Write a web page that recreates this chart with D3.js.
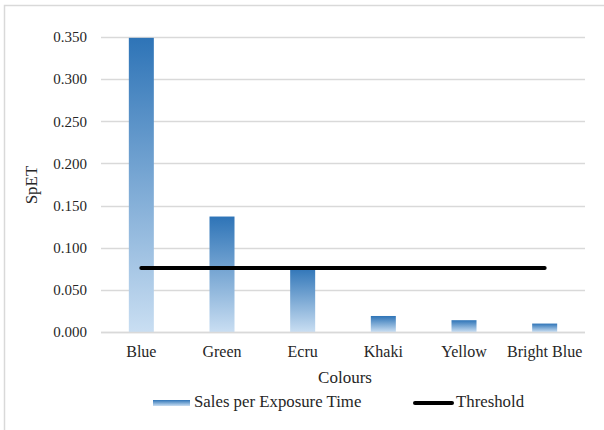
<!DOCTYPE html>
<html>
<head>
<meta charset="utf-8">
<script src="https://cdn.jsdelivr.net/npm/d3@7"></script>
<style>
  html, body { margin: 0; padding: 0; background: #fff; }
  svg { display: block; }
  svg text { font-family: "Times New Roman", "Liberation Serif", Times, "DejaVu Serif", serif !important; fill: #262626; }
</style>
</head>
<body>
<svg id="chart" width="604" height="430"></svg>
<script>
// Sales per Exposure Time by colour, with a fixed threshold
const categories = ["Blue", "Green", "Ecru", "Khaki", "Yellow", "Bright Blue"];
const spetValues = [0.349, 0.137, 0.077, 0.019, 0.014, 0.010];
const thresholdValues = [0.076, 0.076, 0.076, 0.076, 0.076, 0.076];
const yTicks = [0, 0.05, 0.10, 0.15, 0.20, 0.25, 0.30, 0.35];
const seriesNames = ["Sales per Exposure Time", "Threshold"];

const svg = d3.select("#chart");
const W = 604, H = 430;
const margin = { left: 101, right: 19, top: 37, bottom: 98 };

// outer chart frame
svg.append("rect")
  .attr("x", 4.5).attr("y", 5.5)
  .attr("width", W + 10).attr("height", H + 10)
  .attr("fill", "none").attr("stroke", "#d9d9d9").attr("stroke-width", 1.5);

const defs = svg.append("defs");
const grad = defs.append("linearGradient")
  .attr("id", "barGrad").attr("x1", 0).attr("y1", 0).attr("x2", 0).attr("y2", 1);
grad.append("stop").attr("offset", "0%").attr("stop-color", "#2e74b7");
grad.append("stop").attr("offset", "100%").attr("stop-color", "#c9def2");

const x = d3.scaleBand()
  .domain(categories)
  .range([margin.left, W - margin.right])
  .paddingInner(0.69).paddingOuter(0.345);

const y = d3.scaleLinear()
  .domain([0, 0.35])
  .range([H - margin.bottom, margin.top]);

// gridlines
svg.append("g")
  .selectAll("line")
  .data(yTicks)
  .join("line")
  .attr("x1", margin.left).attr("x2", W - margin.right)
  .attr("y1", d => Math.round(y(d)) + 0.5).attr("y2", d => Math.round(y(d)) + 0.5)
  .attr("stroke", "#d9d9d9").attr("stroke-width", 1.3);

// y axis labels
const yAxis = d3.axisLeft(y).tickValues(yTicks).tickFormat(d3.format(".3f")).tickSize(0).tickPadding(14);
const gy = svg.append("g").attr("transform", `translate(${margin.left},0)`).call(yAxis);
gy.attr("font-family", null);
gy.select(".domain").remove();
gy.selectAll("text").attr("font-size", 15);

// bars
svg.append("g")
  .selectAll("rect")
  .data(categories.map((c, i) => ({ c, v: spetValues[i] })))
  .join("rect")
  .attr("x", d => x(d.c))
  .attr("width", x.bandwidth())
  .attr("y", d => y(d.v))
  .attr("height", d => y(0) - y(d.v))
  .attr("fill", "url(#barGrad)");

// x axis
const xAxis = d3.axisBottom(x).tickSize(0).tickPadding(14);
const gx = svg.append("g").attr("transform", `translate(0,${y(0)})`).call(xAxis);
gx.attr("font-family", null);
gx.select(".domain").attr("stroke", "#d9d9d9").attr("stroke-width", 1.3)
  .attr("d", `M${margin.left},0.5H${W - margin.right}`);
gx.selectAll("text").attr("font-size", 16);

// threshold line
const line = d3.line()
  .x((d, i) => x(categories[i]) + x.bandwidth() / 2)
  .y(d => y(d));
svg.append("path")
  .datum(thresholdValues)
  .attr("d", line)
  .attr("fill", "none").attr("stroke", "#000")
  .attr("stroke-width", 4).attr("stroke-linecap", "round");

// axis titles
svg.append("text")
  .attr("x", (margin.left + W - margin.right) / 2 + 2).attr("y", 383)
  .attr("text-anchor", "middle").attr("font-size", 17)
  .text("Colours");
svg.append("text")
  .attr("transform", "translate(37,185) rotate(-90)")
  .attr("text-anchor", "middle").attr("font-size", 17)
  .text("SpET");

// legend
const lg = svg.append("g");
const legGrad = defs.append("linearGradient")
  .attr("id", "legGrad").attr("x1", 0).attr("y1", 0).attr("x2", 0).attr("y2", 1);
legGrad.append("stop").attr("offset", "0%").attr("stop-color", "#2e74b7");
legGrad.append("stop").attr("offset", "100%").attr("stop-color", "#c9def2");
lg.append("rect").attr("x", 153).attr("y", 400).attr("width", 37).attr("height", 6).attr("fill", "url(#legGrad)");
lg.append("text").attr("x", 194).attr("y", 407).attr("font-size", 16.8).text(seriesNames[0]);
lg.append("line").attr("x1", 415).attr("x2", 452).attr("y1", 403).attr("y2", 403)
  .attr("stroke", "#000").attr("stroke-width", 4).attr("stroke-linecap", "round");
lg.append("text").attr("x", 456).attr("y", 407).attr("font-size", 16.8).text(seriesNames[1]);
</script>
</body>
</html>
